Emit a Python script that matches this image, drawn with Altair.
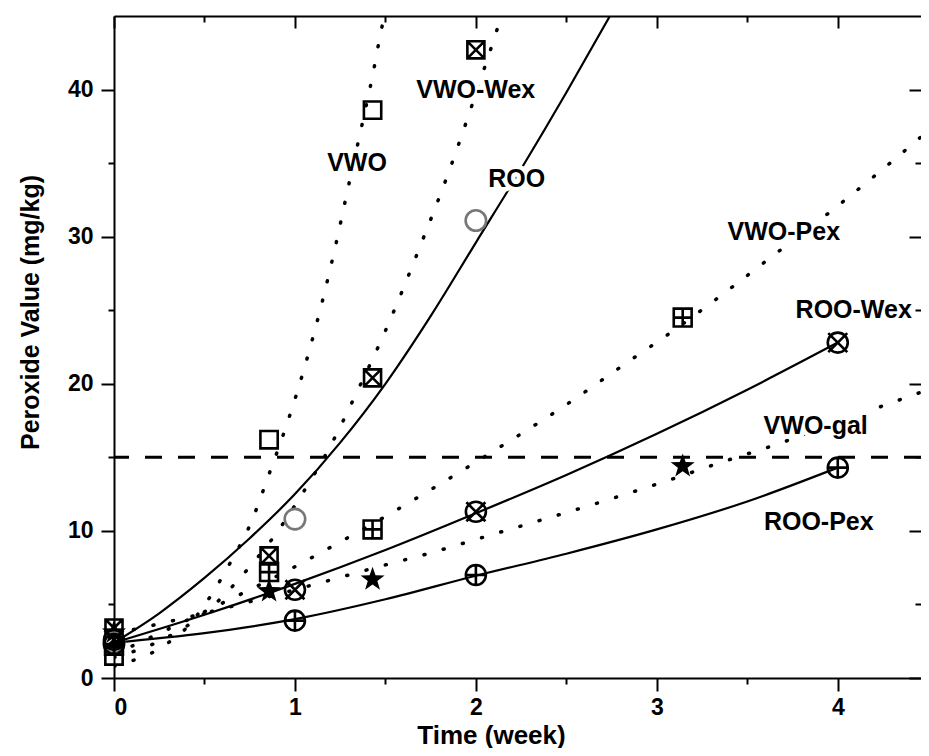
import altair as alt
import pandas as pd

FONT = "Liberation Sans"

# ---------------- axis values ----------------
x_major = [0, 1, 2, 3, 4]
x_minor = [0.5, 1.5, 2.5, 3.5]
y_major = [0, 10, 20, 30, 40]
y_minor = [5, 15, 25, 35]
x_domain = [0, 4.46]
y_domain = [0, 45]
limit_value = [15]

# ---------------- measured points ----------------
series_names = ["VWO", "VWO-Wex", "VWO-Pex", "VWO-gal", "ROO", "ROO-Wex", "ROO-Pex"]

vwo_x = [0, 0.857, 1.429]
vwo_y = [1.5, 16.2, 38.6]
vwo_wex_x = [0, 0.857, 1.429, 2.0]
vwo_wex_y = [3.4, 8.3, 20.4, 42.7]
vwo_pex_x = [0, 0.857, 1.429, 3.143]
vwo_pex_y = [2.2, 7.2, 10.1, 24.5]
vwo_gal_x = [0, 0.857, 1.429, 3.143]
vwo_gal_y = [3.1, 5.9, 6.7, 14.4]
roo_x = [0, 1, 2]
roo_y = [2.4, 10.8, 31.1]
roo_wex_x = [0, 1, 2, 4]
roo_wex_y = [2.6, 6.0, 11.3, 22.8]
roo_pex_x = [0, 1, 2, 4]
roo_pex_y = [2.3, 3.9, 7.0, 14.3]

# ---------------- fitted curves ----------------
c_vwo_x = [0, 0.107, 0.208, 0.30, 0.392, 0.53, 0.641, 0.748, 0.867, 0.94, 1.009, 1.21, 1.304, 1.383, 1.43, 1.47, 1.52]
c_vwo_y = [0.8, 1.2, 1.7, 2.4, 3.3, 5.5, 7.8, 10.3, 14.2, 16.7, 19.3, 28.6, 33.9, 38.3, 41.0, 43.6, 46.5]
c_vwo_wex_x = [0, 0.25, 0.5, 0.76, 0.895, 1.024, 1.193, 1.341, 1.5, 1.70, 1.856, 2.04, 2.11, 2.16]
c_vwo_wex_y = [1.4, 2.5, 4.4, 7.7, 9.8, 12.2, 15.7, 19.4, 23.6, 29.6, 34.6, 41.2, 43.8, 45.8]
c_vwo_pex_x = [0, 0.5, 0.99, 1.175, 1.46, 1.75, 2.12, 2.49, 2.83, 3.09, 3.43, 3.62, 3.97, 4.23, 4.5]
c_vwo_pex_y = [1.6, 4.5, 7.5, 8.74, 10.7, 12.8, 15.6, 18.5, 21.4, 23.6, 26.7, 28.5, 31.8, 34.4, 37.2]
c_vwo_gal_x = [0, 0.5, 1.0, 1.51, 1.72, 2.03, 2.77, 3.08, 3.39, 3.63, 4.25, 4.5]
c_vwo_gal_y = [3.0, 4.4, 6.0, 7.72, 8.4, 9.53, 12.27, 13.5, 14.8, 15.75, 18.5, 19.6]
c_roo_x = [0, 0.25, 0.5, 0.75, 1.0, 1.25, 1.5, 1.75, 2.0, 2.25, 2.5, 2.75, 2.9]
c_roo_y = [2.4, 4.4, 6.8, 9.5, 12.5, 16.0, 20.0, 24.6, 29.6, 34.6, 39.8, 45.2, 48.5]
c_roo_wex_x = [0, 0.5, 1, 1.5, 2, 2.5, 3, 3.5, 4]
c_roo_wex_y = [2.4, 4.3, 6.4, 8.7, 11.2, 13.8, 16.6, 19.6, 22.8]
c_roo_pex_x = [0, 0.5, 1, 1.5, 2, 2.5, 3, 3.5, 4]
c_roo_pex_y = [2.4, 3.05, 4.0, 5.35, 6.95, 8.45, 10.1, 12.0, 14.3]

# ---------------- in-plot labels ----------------
label_text = ["VWO", "VWO-Wex", "ROO", "VWO-Pex", "ROO-Wex", "VWO-gal", "ROO-Pex"]
label_x = [1.343, 1.999, 2.226, 3.702, 4.088, 3.878, 3.895]
label_y = [35.0, 40.0, 33.9, 30.3, 25.0, 17.1, 10.6]

# ---------------- tables ----------------
pts = {
    "VWO": (vwo_x, vwo_y), "VWO-Wex": (vwo_wex_x, vwo_wex_y),
    "VWO-Pex": (vwo_pex_x, vwo_pex_y), "VWO-gal": (vwo_gal_x, vwo_gal_y),
    "ROO": (roo_x, roo_y), "ROO-Wex": (roo_wex_x, roo_wex_y),
    "ROO-Pex": (roo_pex_x, roo_pex_y),
}
curves = {
    "VWO": (c_vwo_x, c_vwo_y), "VWO-Wex": (c_vwo_wex_x, c_vwo_wex_y),
    "VWO-Pex": (c_vwo_pex_x, c_vwo_pex_y), "VWO-gal": (c_vwo_gal_x, c_vwo_gal_y),
    "ROO": (c_roo_x, c_roo_y), "ROO-Wex": (c_roo_wex_x, c_roo_wex_y),
    "ROO-Pex": (c_roo_pex_x, c_roo_pex_y),
}
point_rows = [{"series": s, "x": xv, "y": yv}
              for s, (xs_, ys_) in pts.items() for xv, yv in zip(xs_, ys_)]
curve_rows = [{"series": s, "x": xv, "y": yv, "kind": ("solid" if s.startswith("ROO") else "dotted")}
              for s, (xs_, ys_) in curves.items() for xv, yv in zip(xs_, ys_)]
points_df = pd.DataFrame(point_rows)
curves_df = pd.DataFrame(curve_rows)
labels_df = pd.DataFrame({"text": label_text, "x": label_x, "y": label_y})
limit_df = pd.DataFrame({"v": limit_value})

# ---------------- marker shapes ----------------
SQ = "M-1,-1H1V1H-1Z"
CIRC = "M1,0A1,1,0,1,1,-1,0A1,1,0,1,1,1,0Z"
shapes = {
    "VWO": SQ,
    "VWO-Wex": SQ + " M-1,-1L1,1 M-1,1L1,-1",
    "VWO-Pex": SQ + " M0,-1V1 M-1,0H1",
    "VWO-gal": "M0,-1L0.235,-0.324L0.951,-0.309L0.380,0.124L0.588,0.809L0,0.4L-0.588,0.809L-0.380,0.124L-0.951,-0.309L-0.235,-0.324Z",
    "ROO": CIRC,
    "ROO-Wex": CIRC + " M-0.95,-0.95L0.95,0.95 M-0.95,0.95L0.95,-0.95",
    "ROO-Pex": CIRC + " M0,-1V1 M-1,0H1",
}
sizes = {"VWO": 300, "VWO-Wex": 290, "VWO-Pex": 320, "VWO-gal": 640,
         "ROO": 420, "ROO-Wex": 400, "ROO-Pex": 400}
colors = {"ROO": "#777777"}

# ---------------- axes ----------------
common = dict(grid=False, tickColor="black", tickWidth=2,
              domainColor="black", domainWidth=2,
              labelFont=FONT, labelFontWeight="bold", labelFontSize=23, labelColor="black",
              titleFont=FONT, titleFontWeight="bold", titleColor="black")

ax_x_bottom = alt.Axis(orient="bottom", values=x_major, tickSize=13, labelPadding=5, format="d",
                       domain=True, title="Time (week)", titleFontSize=26, titleX=377, titleY=65,
                       titleAlign="center", titleBaseline="alphabetic", **common)
ax_x_bottom_minor = alt.Axis(orient="bottom", values=x_minor, tickSize=6, labels=False,
                             domain=False, title=None, **common)
ax_x_top_line = alt.Axis(orient="top", values=x_major, ticks=False, labels=False,
                         domain=True, title=None, **common)
ax_x_top = alt.Axis(orient="top", offset=-12, values=x_major, tickSize=12, labels=False,
                    domain=False, title=None, **common)
ax_x_top_minor = alt.Axis(orient="top", offset=-6, values=x_minor, tickSize=6, labels=False,
                          domain=False, title=None, **common)

ax_y_left = alt.Axis(orient="left", values=y_major, tickSize=13, labelPadding=8, format="d",
                     domain=True, title="Peroxide Value (mg/kg)", titleFontSize=25,
                     titleX=-84, titleY=296, titleAngle=270, titleAlign="center",
                     titleBaseline="middle", **common)
ax_y_left_minor = alt.Axis(orient="left", values=y_minor, tickSize=6, labels=False,
                           domain=False, title=None, **common)
ax_y_right = alt.Axis(orient="right", offset=-12, values=y_major, tickSize=12, labels=False,
                      domain=False, title=None, **common)
ax_y_right_minor = alt.Axis(orient="right", offset=-6, values=y_minor, tickSize=6, labels=False,
                            domain=False, title=None, **common)

xs = alt.Scale(domain=x_domain, nice=False, zero=False)
ys = alt.Scale(domain=y_domain, nice=False, zero=False)


def X(axis):
    return alt.X("x:Q", scale=xs, axis=axis)


def Y(axis, field="y"):
    return alt.Y(f"{field}:Q", scale=ys, axis=axis)


base_lines = alt.Chart(curves_df)

rule = alt.Chart(limit_df).mark_rule(color="black", strokeWidth=3, strokeDash=[17, 16]).encode(
    y=Y(ax_y_left, "v"))

solid = base_lines.transform_filter(alt.datum.kind == "solid").mark_line(
    color="black", strokeWidth=2.2, interpolate="monotone", clip=True).encode(
    x=X(ax_x_bottom), y=Y(ax_y_left_minor), detail="series:N")

dotted = base_lines.transform_filter(alt.datum.kind == "dotted").mark_line(
    color="black", strokeWidth=3.5, strokeDash=[1, 19], strokeCap="round",
    interpolate="monotone", clip=True).encode(
    x=X(ax_x_bottom_minor), y=Y(ax_y_right), detail="series:N")

text_style = dict(font=FONT, fontWeight="bold", fontSize=25, align="center", baseline="middle")

halo = alt.Chart(labels_df).mark_text(
    color="white", stroke="white", strokeWidth=9, strokeJoin="round", **text_style
).encode(x=X(ax_x_top), y=Y(ax_y_right_minor), text="text:N")

text = alt.Chart(labels_df).mark_text(color="black", **text_style).encode(
    x=X(ax_x_top_line), y=Y(None), text="text:N")

point_layers = []
for i, s in enumerate(series_names):
    filled = s == "VWO-gal"
    mark = dict(shape=shapes[s], size=sizes[s], strokeWidth=2.6,
                color=colors.get(s, "black"), filled=filled, opacity=1)
    layer = alt.Chart(points_df).transform_filter(alt.datum.series == s).mark_point(**mark).encode(
        x=X(ax_x_top_minor if i == 0 else None), y=Y(None))
    point_layers.append(layer)

chart = alt.layer(rule, solid, dotted, halo, text, *point_layers).resolve_axis(
    x="independent", y="independent"
).properties(
    width=807, height=662,
    padding={"left": 106, "top": 8, "right": 0, "bottom": 70},
    autosize=alt.AutoSizeParams(type="none"),
    background="white",
).configure_view(strokeWidth=0)

chart.save("out.html", embed_options={"renderer": "svg", "actions": False})
